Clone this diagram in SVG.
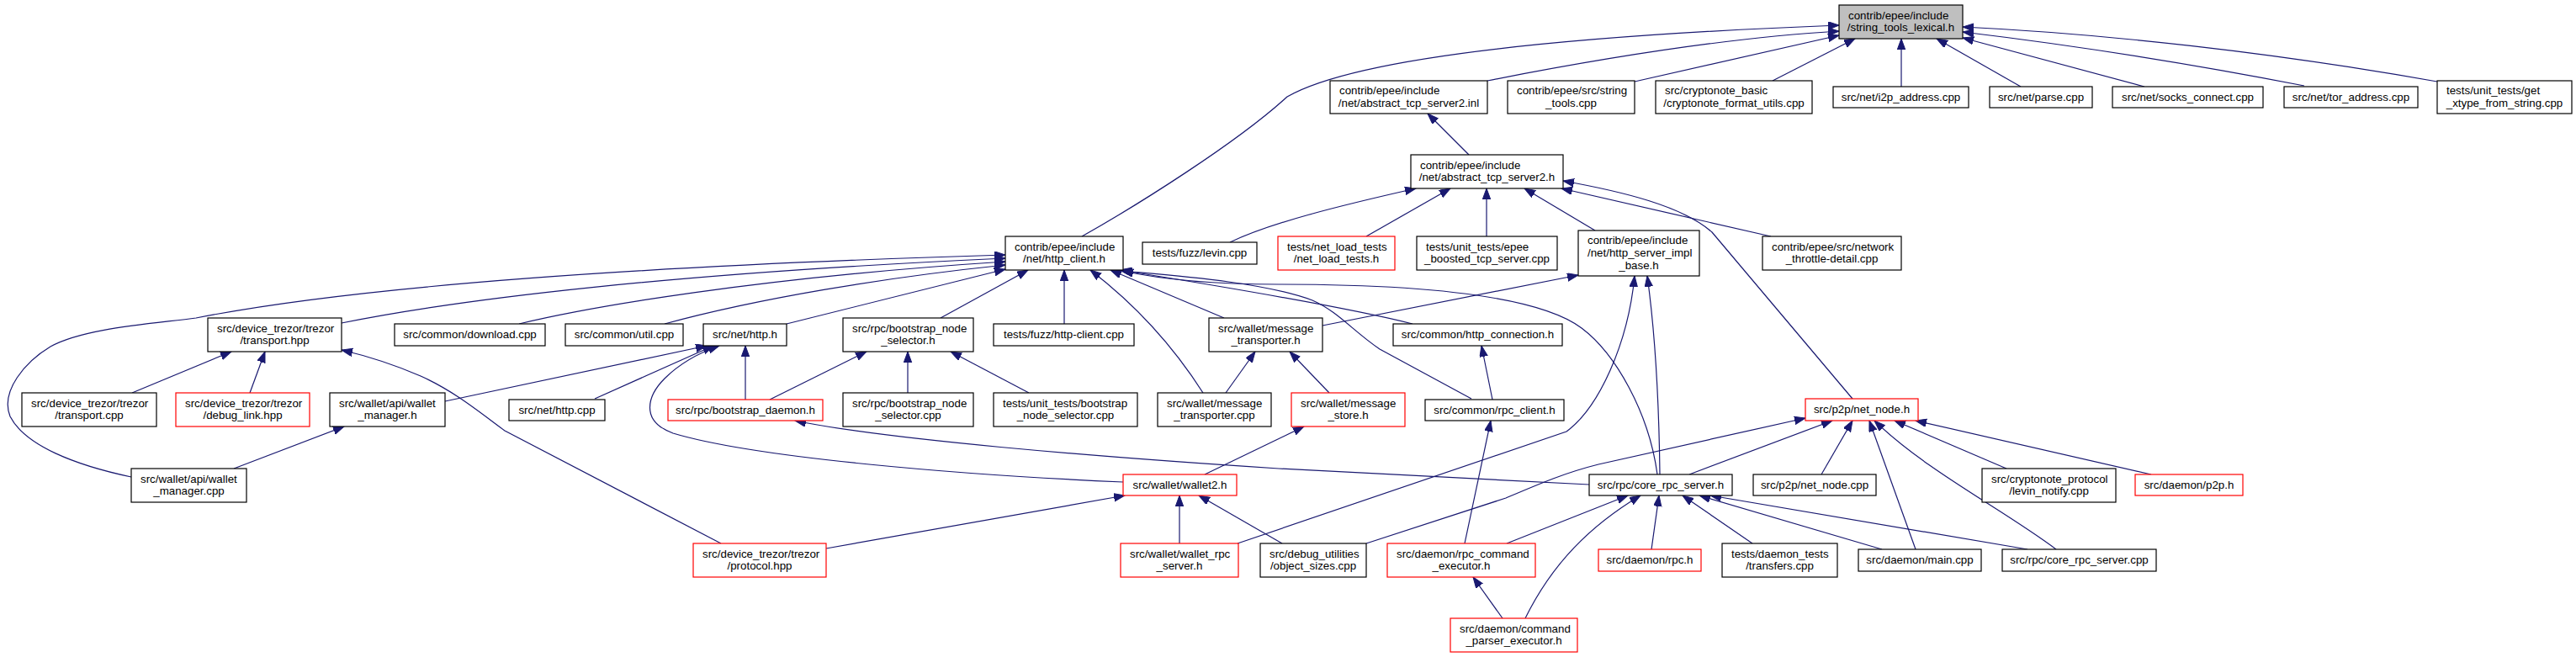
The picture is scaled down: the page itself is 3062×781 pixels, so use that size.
<svg xmlns="http://www.w3.org/2000/svg" width="3062" height="781" viewBox="0 0 3062 781">
<style>
.bg{fill:#ffffff}
.n rect{fill:#ffffff;stroke:#000000;stroke-width:1.2}
.n.r rect{stroke:#ff0000}
.n.m rect{fill:#bfbfbf}
.n text{font-family:"Liberation Sans",Arial,Helvetica,sans-serif;font-size:13.33px;fill:#000000}
.c{text-anchor:middle}
.e path{fill:none;stroke:#191970;stroke-width:1.2;marker-end:url(#a)}
</style>
<defs>
<marker id="a" markerUnits="userSpaceOnUse" markerWidth="16" markerHeight="12" refX="13" refY="4.75" orient="auto">
<path d="M0,0 L13,4.75 L0,9.5 z" fill="#191970" stroke="#191970" stroke-width="1"/>
</marker>
</defs>
<rect class="bg" x="0" y="0" width="3062" height="781"/>
<g class="e" id="edges">
<path d="M1286,281 C1350,245 1470,170 1530,115 C1600,75 1800,45 2186,30"/>
<path d="M1768,96 C1900,70 2050,45 2186,37"/>
<path d="M1943,97 L2186,42"/>
<path d="M2107,96 L2205,46"/>
<path d="M2260,103 L2260,46"/>
<path d="M2402,103 L2302,46"/>
<path d="M2549,103 L2333,45"/>
<path d="M2739,102 C2600,75 2450,52 2333,38"/>
<path d="M2897,97 C2700,62 2500,40 2333,32"/>
<path d="M1746,184 L1697,135"/>
<path d="M1462,288 C1510,265 1590,245 1683,224"/>
<path d="M1624,281 L1724,224"/>
<path d="M1767,281 L1767,224"/>
<path d="M1896,274 L1812,224"/>
<path d="M2105,281 L1856,224"/>
<path d="M2202,474 L2035,276 C2000,245 1930,228 1858,215"/>
<path d="M1572,387 L1876,327"/>
<path d="M1471,646 L1862,513 C1900,485 1935,410 1943,328"/>
<path d="M1973,564 C1972,480 1968,400 1958,328"/>
<path d="M156,567 C90,553 30,530 12,495 C0,465 30,430 60,412 C100,390 180,385 233,378 C400,345 700,318 1195,303"/>
<path d="M406,384 C550,355 800,325 1195,307"/>
<path d="M617,385 C700,365 900,330 1195,311"/>
<path d="M790,385 C900,355 1050,330 1195,315"/>
<path d="M935,385 L1195,320"/>
<path d="M1118,378 L1222,321"/>
<path d="M1265,385 L1265,321"/>
<path d="M1430,467 C1400,420 1360,370 1296,321"/>
<path d="M1455,378 L1320,321"/>
<path d="M1679,385 C1600,365 1450,340 1331,321"/>
<path d="M1749,474 L1640,415 C1610,395 1590,370 1560,357 C1500,335 1400,328 1333,322"/>
<path d="M1970,564 C1960,490 1920,420 1880,390 C1820,345 1650,338 1520,338 C1440,338 1380,332 1334,322"/>
<path d="M529,477 L840,411"/>
<path d="M707,474 L848,411"/>
<path d="M1335,573 C1150,565 900,545 800,515 C760,500 770,470 790,450 C810,430 835,418 855,411"/>
<path d="M886,475 L886,411"/>
<path d="M915,475 L1030,418"/>
<path d="M1079,467 L1079,418"/>
<path d="M1223,467 L1130,418"/>
<path d="M1889,576 L1520,557 C1300,543 1050,522 945,500"/>
<path d="M157,467 L275,418"/>
<path d="M297,467 L315,418"/>
<path d="M857,646 L600,512 C570,490 540,465 500,447 C470,434 440,424 406,416"/>
<path d="M278,557 L409,507"/>
<path d="M1457,467 L1492,418"/>
<path d="M1580,467 L1533,418"/>
<path d="M1432,564 L1550,507"/>
<path d="M982,652 L1337,589"/>
<path d="M1402,646 L1402,589"/>
<path d="M1524,646 L1425,589"/>
<path d="M1741,646 L1772,500"/>
<path d="M1774,475 L1761,411"/>
<path d="M1786,735 L1751,686"/>
<path d="M1791,646 L1935,589"/>
<path d="M1813,735 C1845,670 1890,625 1950,589"/>
<path d="M1963,653 L1972,589"/>
<path d="M2083,646 L2000,589"/>
<path d="M2237,653 L2020,589"/>
<path d="M2410,653 L2033,589"/>
<path d="M2008,564 L2178,500"/>
<path d="M1624,646 L1790,592 C1830,575 1860,562 1900,552 L2146,497"/>
<path d="M2165,564 L2202,500"/>
<path d="M2277,653 L2222,500"/>
<path d="M2444,653 C2380,605 2290,560 2228,500"/>
<path d="M2385,557 L2252,500"/>
<path d="M2557,564 L2277,500"/>
</g>
<g class="n m" id="n0"><rect x="2186" y="6" width="147" height="40"/><text x="2197" y="22.5">contrib/epee/include</text><text class="c" x="2259.5" y="36.5">/string_tools_lexical.h</text></g>
<g class="n" id="n1"><rect x="1581" y="96" width="187" height="39"/><text x="1592" y="112">contrib/epee/include</text><text class="c" x="1674.5" y="126.5">/net/abstract_tcp_server2.inl</text></g>
<g class="n" id="n2"><rect x="1792" y="96" width="151" height="39"/><text x="1803" y="112">contrib/epee/src/string</text><text class="c" x="1867.5" y="126.5">_tools.cpp</text></g>
<g class="n" id="n3"><rect x="1968" y="96" width="186" height="39"/><text x="1979" y="112">src/cryptonote_basic</text><text class="c" x="2061" y="126.5">/cryptonote_format_utils.cpp</text></g>
<g class="n" id="n4"><rect x="2179" y="103" width="161" height="25"/><text class="c" x="2259.5" y="119.5">src/net/i2p_address.cpp</text></g>
<g class="n" id="n5"><rect x="2365" y="103" width="122" height="25"/><text class="c" x="2426" y="119.5">src/net/parse.cpp</text></g>
<g class="n" id="n6"><rect x="2511" y="103" width="179" height="25"/><text class="c" x="2600.5" y="119.5">src/net/socks_connect.cpp</text></g>
<g class="n" id="n7"><rect x="2715" y="103" width="159" height="25"/><text class="c" x="2794.5" y="119.5">src/net/tor_address.cpp</text></g>
<g class="n" id="n8"><rect x="2897" y="96" width="160" height="39"/><text x="2908" y="112">tests/unit_tests/get</text><text class="c" x="2977" y="126.5">_xtype_from_string.cpp</text></g>
<g class="n" id="n9"><rect x="1677" y="184" width="181" height="40"/><text x="1688" y="200.5">contrib/epee/include</text><text class="c" x="1767.5" y="215">/net/abstract_tcp_server2.h</text></g>
<g class="n" id="n10"><rect x="1195" y="281" width="140" height="40"/><text x="1206" y="297.5">contrib/epee/include</text><text class="c" x="1265" y="312">/net/http_client.h</text></g>
<g class="n" id="n11"><rect x="1358" y="288" width="136" height="26"/><text class="c" x="1426" y="305">tests/fuzz/levin.cpp</text></g>
<g class="n r" id="n12"><rect x="1519" y="281" width="139" height="40"/><text x="1530" y="297.5">tests/net_load_tests</text><text class="c" x="1588.5" y="312">/net_load_tests.h</text></g>
<g class="n" id="n13"><rect x="1684" y="281" width="167" height="40"/><text x="1695" y="297.5">tests/unit_tests/epee</text><text class="c" x="1767.5" y="312">_boosted_tcp_server.cpp</text></g>
<g class="n" id="n14"><rect x="1876" y="274" width="144" height="54"/><text x="1887" y="290">contrib/epee/include</text><text x="1887" y="305">/net/http_server_impl</text><text class="c" x="1948" y="320">_base.h</text></g>
<g class="n" id="n15"><rect x="2095" y="281" width="165" height="40"/><text x="2106" y="297.5">contrib/epee/src/network</text><text class="c" x="2177.5" y="312">_throttle-detail.cpp</text></g>
<g class="n" id="n16"><rect x="247" y="378" width="159" height="40"/><text x="258" y="394.5">src/device_trezor/trezor</text><text class="c" x="326.5" y="409">/transport.hpp</text></g>
<g class="n" id="n17"><rect x="469" y="385" width="179" height="26"/><text class="c" x="558.5" y="402">src/common/download.cpp</text></g>
<g class="n" id="n18"><rect x="672" y="385" width="140" height="26"/><text class="c" x="742" y="402">src/common/util.cpp</text></g>
<g class="n" id="n19"><rect x="836" y="385" width="99" height="26"/><text class="c" x="885.5" y="402">src/net/http.h</text></g>
<g class="n" id="n20"><rect x="1002" y="378" width="155" height="40"/><text x="1013" y="394.5">src/rpc/bootstrap_node</text><text class="c" x="1079.5" y="409">_selector.h</text></g>
<g class="n" id="n21"><rect x="1181" y="385" width="167" height="26"/><text class="c" x="1264.5" y="402">tests/fuzz/http-client.cpp</text></g>
<g class="n" id="n22"><rect x="1437" y="378" width="135" height="40"/><text x="1448" y="394.5">src/wallet/message</text><text class="c" x="1504.5" y="409">_transporter.h</text></g>
<g class="n" id="n23"><rect x="1656" y="385" width="201" height="26"/><text class="c" x="1756.5" y="402">src/common/http_connection.h</text></g>
<g class="n" id="n24"><rect x="26" y="467" width="160" height="40"/><text x="37" y="483.5">src/device_trezor/trezor</text><text class="c" x="106" y="498">/transport.cpp</text></g>
<g class="n r" id="n25"><rect x="209" y="467" width="159" height="40"/><text x="220" y="483.5">src/device_trezor/trezor</text><text class="c" x="288.5" y="498">/debug_link.hpp</text></g>
<g class="n" id="n26"><rect x="392" y="467" width="137" height="40"/><text x="403" y="483.5">src/wallet/api/wallet</text><text class="c" x="460.5" y="498">_manager.h</text></g>
<g class="n" id="n27"><rect x="605" y="475" width="114" height="25"/><text class="c" x="662" y="491.5">src/net/http.cpp</text></g>
<g class="n r" id="n28"><rect x="794" y="475" width="184" height="25"/><text class="c" x="886" y="491.5">src/rpc/bootstrap_daemon.h</text></g>
<g class="n" id="n29"><rect x="1002" y="467" width="155" height="40"/><text x="1013" y="483.5">src/rpc/bootstrap_node</text><text class="c" x="1079.5" y="498">_selector.cpp</text></g>
<g class="n" id="n30"><rect x="1181" y="467" width="171" height="40"/><text x="1192" y="483.5">tests/unit_tests/bootstrap</text><text class="c" x="1266.5" y="498">_node_selector.cpp</text></g>
<g class="n" id="n31"><rect x="1376" y="467" width="135" height="40"/><text x="1387" y="483.5">src/wallet/message</text><text class="c" x="1443.5" y="498">_transporter.cpp</text></g>
<g class="n r" id="n32"><rect x="1535" y="467" width="135" height="40"/><text x="1546" y="483.5">src/wallet/message</text><text class="c" x="1602.5" y="498">_store.h</text></g>
<g class="n" id="n33"><rect x="1694" y="475" width="165" height="25"/><text class="c" x="1776.5" y="491.5">src/common/rpc_client.h</text></g>
<g class="n r" id="n34"><rect x="2146" y="474" width="134" height="26"/><text class="c" x="2213" y="491">src/p2p/net_node.h</text></g>
<g class="n" id="n35"><rect x="156" y="557" width="137" height="40"/><text x="167" y="573.5">src/wallet/api/wallet</text><text class="c" x="224.5" y="588">_manager.cpp</text></g>
<g class="n r" id="n36"><rect x="1335" y="564" width="135" height="25"/><text class="c" x="1402.5" y="580.5">src/wallet/wallet2.h</text></g>
<g class="n" id="n37"><rect x="1889" y="564" width="170" height="25"/><text class="c" x="1974" y="580.5">src/rpc/core_rpc_server.h</text></g>
<g class="n" id="n38"><rect x="2084" y="564" width="146" height="25"/><text class="c" x="2157" y="580.5">src/p2p/net_node.cpp</text></g>
<g class="n" id="n39"><rect x="2356" y="557" width="159" height="40"/><text x="2367" y="573.5">src/cryptonote_protocol</text><text class="c" x="2435.5" y="588">/levin_notify.cpp</text></g>
<g class="n r" id="n40"><rect x="2538" y="564" width="128" height="25"/><text class="c" x="2602" y="580.5">src/daemon/p2p.h</text></g>
<g class="n r" id="n41"><rect x="824" y="646" width="158" height="40"/><text x="835" y="662.5">src/device_trezor/trezor</text><text class="c" x="903" y="677">/protocol.hpp</text></g>
<g class="n r" id="n42"><rect x="1332" y="646" width="140" height="40"/><text x="1343" y="662.5">src/wallet/wallet_rpc</text><text class="c" x="1402" y="677">_server.h</text></g>
<g class="n" id="n43"><rect x="1498" y="646" width="126" height="40"/><text x="1509" y="662.5">src/debug_utilities</text><text class="c" x="1561" y="677">/object_sizes.cpp</text></g>
<g class="n r" id="n44"><rect x="1649" y="646" width="176" height="40"/><text x="1660" y="662.5">src/daemon/rpc_command</text><text class="c" x="1737" y="677">_executor.h</text></g>
<g class="n r" id="n45"><rect x="1900" y="653" width="122" height="26"/><text class="c" x="1961" y="670">src/daemon/rpc.h</text></g>
<g class="n" id="n46"><rect x="2047" y="646" width="137" height="40"/><text x="2058" y="662.5">tests/daemon_tests</text><text class="c" x="2115.5" y="677">/transfers.cpp</text></g>
<g class="n" id="n47"><rect x="2209" y="653" width="146" height="26"/><text class="c" x="2282" y="670">src/daemon/main.cpp</text></g>
<g class="n" id="n48"><rect x="2380" y="653" width="183" height="26"/><text class="c" x="2471.5" y="670">src/rpc/core_rpc_server.cpp</text></g>
<g class="n r" id="n49"><rect x="1724" y="735" width="151" height="40"/><text x="1735" y="751.5">src/daemon/command</text><text class="c" x="1799.5" y="766">_parser_executor.h</text></g>
</svg>
